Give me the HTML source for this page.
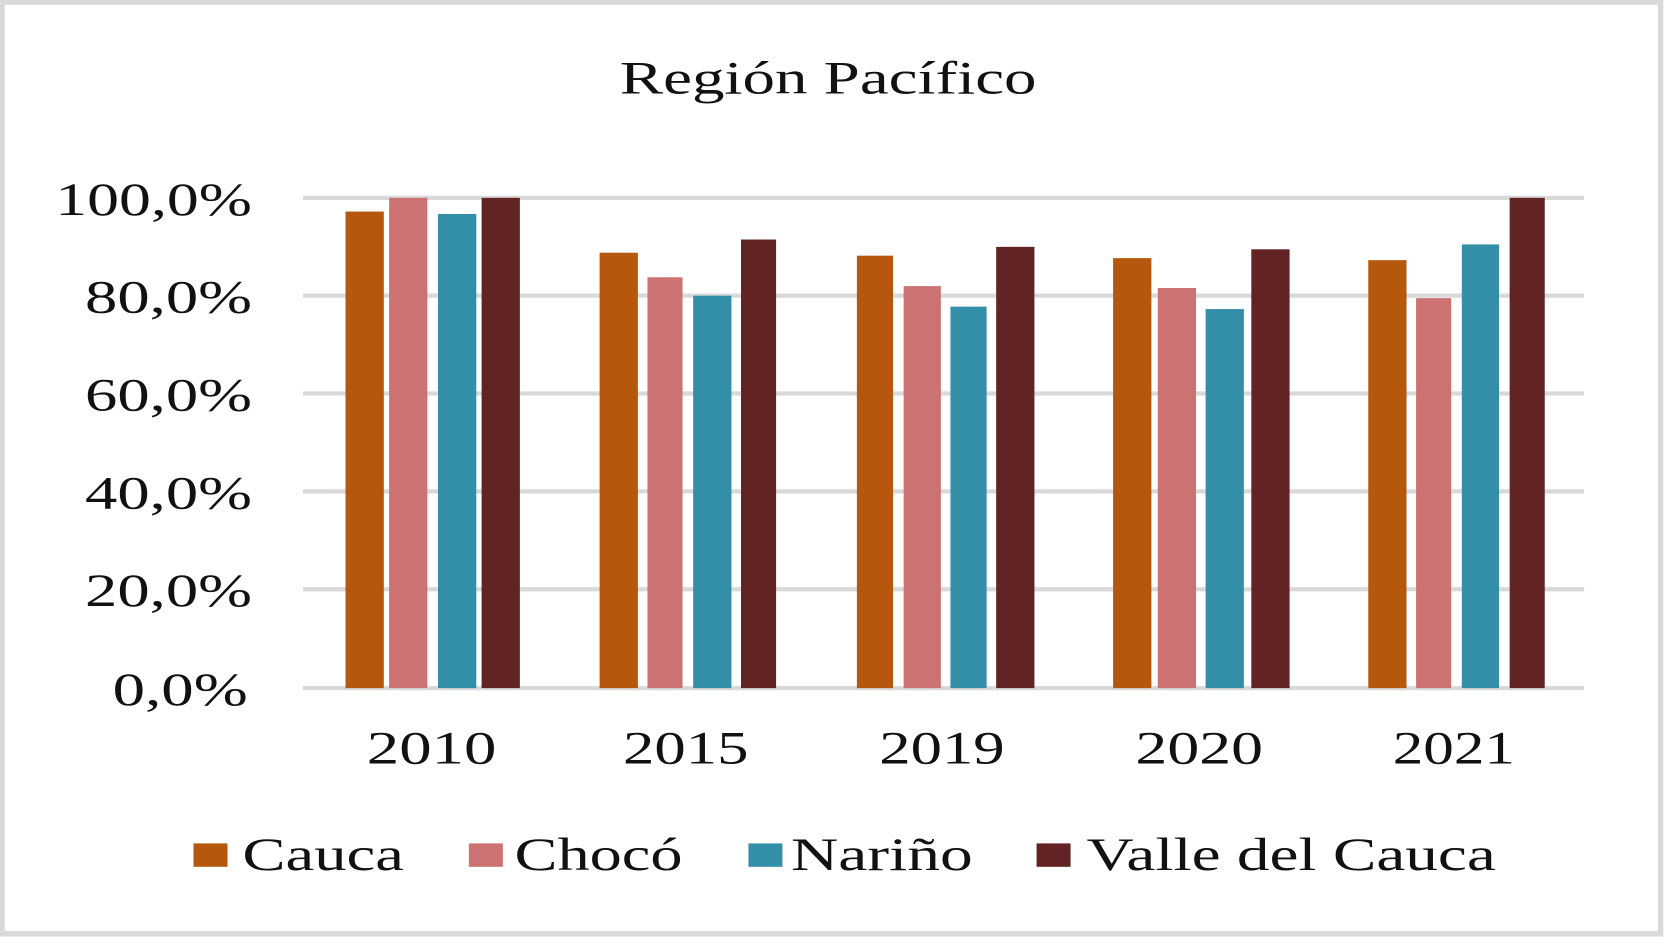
<!DOCTYPE html>
<html><head><meta charset="utf-8"><style>html,body{margin:0;padding:0;background:#fff}svg{display:block}</style></head>
<body>
<svg width="1667" height="937" viewBox="0 0 1568 881" preserveAspectRatio="none" xmlns="http://www.w3.org/2000/svg" font-family="'Liberation Serif', serif" fill="#111">
<rect x="2" y="2" width="1560" height="876" fill="#fff" stroke="#d9d9d9" stroke-width="5"/>
<text x="583" y="88" font-size="44" textLength="392" lengthAdjust="spacingAndGlyphs">Región Pacífico</text>
<g stroke="#d9d9d9" stroke-width="4">
<line x1="285" x2="1490" y1="186" y2="186"/><line x1="285" x2="1490" y1="278" y2="278"/>
<line x1="285" x2="1490" y1="370" y2="370"/><line x1="285" x2="1490" y1="462" y2="462"/>
<line x1="285" x2="1490" y1="554" y2="554"/><line x1="285" x2="1490" y1="647" y2="647"/>
</g>
<g font-size="44" lengthAdjust="spacingAndGlyphs">
<text x="52" y="202" textLength="185" lengthAdjust="spacingAndGlyphs">100,0%</text>
<text x="80" y="294" textLength="157" lengthAdjust="spacingAndGlyphs">80,0%</text>
<text x="80" y="386" textLength="157" lengthAdjust="spacingAndGlyphs">60,0%</text>
<text x="80" y="478" textLength="157" lengthAdjust="spacingAndGlyphs">40,0%</text>
<text x="80" y="570" textLength="157" lengthAdjust="spacingAndGlyphs">20,0%</text>
<text x="106" y="663" textLength="127" lengthAdjust="spacingAndGlyphs">0,0%</text>
</g>
<g>
<rect x="325" y="198.9" width="36" height="448.1" fill="#B5570C"/>
<rect x="366" y="186" width="36" height="461" fill="#CC7272"/>
<rect x="412" y="201.2" width="36" height="445.8" fill="#338EA8"/>
<rect x="453" y="186" width="36" height="461" fill="#612324"/>
<rect x="564" y="237.6" width="36" height="409.4" fill="#B5570C"/>
<rect x="609" y="260.7" width="33" height="386.3" fill="#CC7272"/>
<rect x="652" y="278" width="36" height="369" fill="#338EA8"/>
<rect x="697" y="225.2" width="33" height="421.8" fill="#612324"/>
<rect x="806" y="240.4" width="34" height="406.6" fill="#B5570C"/>
<rect x="850" y="269" width="35" height="378" fill="#CC7272"/>
<rect x="894" y="288.3" width="34" height="358.7" fill="#338EA8"/>
<rect x="937" y="232.1" width="36" height="414.9" fill="#612324"/>
<rect x="1047" y="242.7" width="36" height="404.3" fill="#B5570C"/>
<rect x="1089" y="270.8" width="36" height="376.2" fill="#CC7272"/>
<rect x="1134" y="290.6" width="36" height="356.4" fill="#338EA8"/>
<rect x="1177" y="234.4" width="36" height="412.6" fill="#612324"/>
<rect x="1287" y="244.6" width="36" height="402.4" fill="#B5570C"/>
<rect x="1332" y="280.3" width="33" height="366.7" fill="#CC7272"/>
<rect x="1375" y="229.8" width="35" height="417.2" fill="#338EA8"/>
<rect x="1420" y="186" width="33" height="461" fill="#612324"/>
</g>
<g font-size="44">
<text x="345" y="718" textLength="122" lengthAdjust="spacingAndGlyphs">2010</text>
<text x="586" y="718" textLength="118" lengthAdjust="spacingAndGlyphs">2015</text>
<text x="827" y="718" textLength="118" lengthAdjust="spacingAndGlyphs">2019</text>
<text x="1068" y="718" textLength="120" lengthAdjust="spacingAndGlyphs">2020</text>
<text x="1310" y="718" textLength="115" lengthAdjust="spacingAndGlyphs">2021</text>
</g>
<g font-size="44">
<rect x="182" y="793" width="32" height="22" fill="#B5570C"/><text x="228" y="818" textLength="152" lengthAdjust="spacingAndGlyphs">Cauca</text>
<rect x="441" y="793" width="32" height="22" fill="#CC7272"/><text x="484" y="818" textLength="158" lengthAdjust="spacingAndGlyphs">Chocó</text>
<rect x="704" y="793" width="32" height="22" fill="#338EA8"/><text x="744" y="818" textLength="171" lengthAdjust="spacingAndGlyphs">Nariño</text>
<rect x="975" y="793" width="32" height="22" fill="#612324"/><text x="1022" y="818" textLength="385" lengthAdjust="spacingAndGlyphs">Valle del Cauca</text>
</g>
</svg>
</body></html>
